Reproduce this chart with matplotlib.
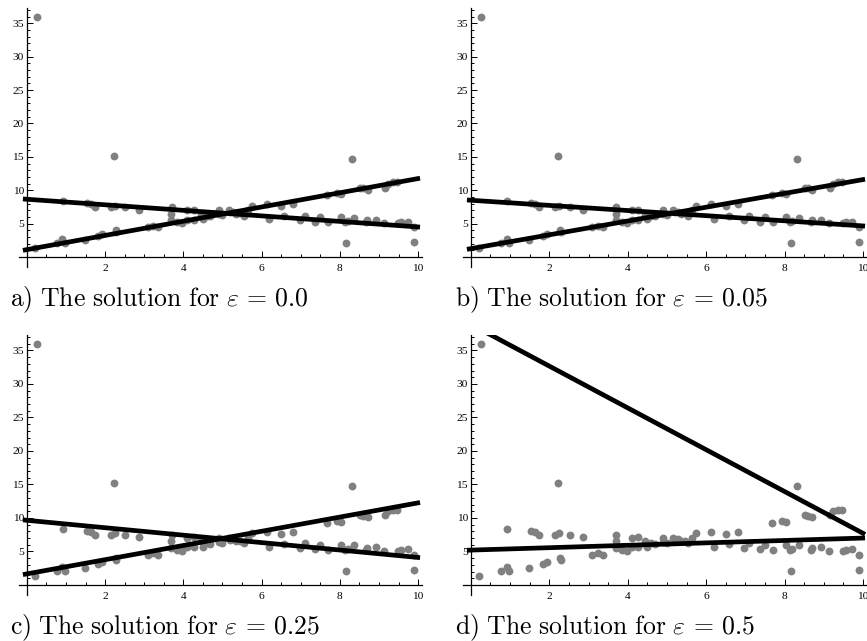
import numpy as np
import matplotlib
matplotlib.use("Agg")
import matplotlib.pyplot as plt

plt.rcParams["mathtext.fontset"] = "cm"

# data points (same in all four panels)
x_pts = [0.21, 0.25, 0.76, 0.91, 0.93, 0.98, 1.48, 1.53, 1.63, 1.74, 1.83, 1.93,
         2.14, 2.23, 2.25, 2.27, 2.29, 2.52, 2.86, 3.09, 3.23, 3.36, 3.69, 3.69,
         3.70, 3.85, 3.97, 4.10, 4.10, 4.27, 4.27, 4.45, 4.50, 4.60, 4.69, 4.90,
         4.90, 5.00, 5.16, 5.20, 5.28, 5.35, 5.45, 5.54, 5.65, 5.75, 6.13, 6.20,
         6.50, 6.57, 6.80, 6.97, 7.10, 7.37, 7.49, 7.68, 7.71, 7.94, 8.03, 8.03,
         8.13, 8.17, 8.20, 8.32, 8.37, 8.51, 8.60, 8.67, 8.70, 8.71, 8.92, 9.13,
         9.15, 9.24, 9.36, 9.47, 9.49, 9.56, 9.73, 9.90, 9.90]
y_pts = [1.4, 36.0, 2.1, 2.7, 8.4, 2.1, 2.6, 8.1, 7.9, 7.5, 3.1, 3.4,
         7.5, 15.2, 7.7, 4.0, 3.7, 7.5, 7.1, 4.5, 4.7, 4.5, 5.5, 6.5,
         7.5, 5.2, 5.1, 5.6, 7.0, 5.6, 7.1, 6.5, 5.7, 6.2, 6.1, 6.4,
         7.0, 6.3, 7.0, 6.7, 6.8, 6.5, 6.6, 6.2, 7.0, 7.7, 7.9, 5.7,
         7.6, 6.1, 7.9, 5.5, 6.2, 5.3, 6.0, 9.3, 5.2, 9.6, 9.4, 6.0,
         5.2, 2.1, 5.4, 14.7, 5.9, 10.4, 10.3, 5.2, 5.5, 10.1, 5.6, 5.1,
         10.4, 11.0, 11.2, 11.2, 5.1, 5.2, 5.3, 4.5, 2.2]

# fitted lines per panel: (intercept, slope)
captions = ["a) The solution for", "b) The solution for",
            "c) The solution for", "d) The solution for"]
eps_labels = ["0.0", "0.05", "0.25", "0.5"]
line1 = [(8.65, -0.415), (8.5, -0.385), (9.65, -0.555), (38.9, -3.12)]
line2 = [(1.1, 1.065), (1.25, 1.035), (1.65, 1.06), (5.2, 0.18)]

W, H = 867, 641
fig = plt.figure(figsize=(W / 100, H / 100), dpi=100)

# axes rectangles in pixels: left, top, right, bottom
boxes = [(19, 8, 422, 267), (463, 8, 867, 267),
         (19, 335, 422, 595), (463, 335, 867, 595)]
cap_pos = [(10, 306), (455, 306), (10, 634), (455, 634)]

xs = np.array([-0.1, 10.05])
for i, (l, t, r, b) in enumerate(boxes):
    ax = fig.add_axes([l / W, 1 - b / H, (r - l) / W, (b - t) / H])
    ax.scatter(x_pts, y_pts, s=32, color="#808080", zorder=2, linewidths=0)
    for a0, a1 in (line1[i], line2[i]):
        ax.plot(xs, a0 + a1 * xs, color="black", lw=3.4, zorder=3,
                solid_capstyle="butt")
    ax.set_xlim(-0.2, 10.1)
    ax.set_ylim(-1.5, 37.3)
    for s in ("top", "right"):
        ax.spines[s].set_visible(False)
    ax.spines["left"].set_position(("data", 0))
    ax.spines["bottom"].set_position(("data", 0))
    for s in ("left", "bottom"):
        ax.spines[s].set_linewidth(0.9)
    ax.set_xticks([2, 4, 6, 8, 10])
    ax.set_xticks(np.arange(0.5, 10.01, 0.5), minor=True)
    ax.set_yticks([5, 10, 15, 20, 25, 30, 35])
    ax.set_yticks(np.arange(1, 37.1, 1), minor=True)
    ax.tick_params(which="both", direction="in", width=0.7, labelsize=8.2)
    ax.tick_params(which="major", length=4.5)
    ax.tick_params(which="minor", length=2.5)
    ax.tick_params(axis="x", pad=5)
    ax.tick_params(axis="y", pad=2)
    for lab in ax.get_xticklabels() + ax.get_yticklabels():
        lab.set_family("Liberation Serif")
    ax.patch.set_alpha(0)

    cx, cy = cap_pos[i]
    txt = captions[i].replace(" ", r"\ ")
    fig.text(cx / W, 1 - cy / H,
             r"$\mathrm{" + txt + r"}\ \varepsilon\,=\," + eps_labels[i] + "$",
             fontsize=18.5, ha="left", va="baseline")

fig.savefig("out.png", dpi=100)
